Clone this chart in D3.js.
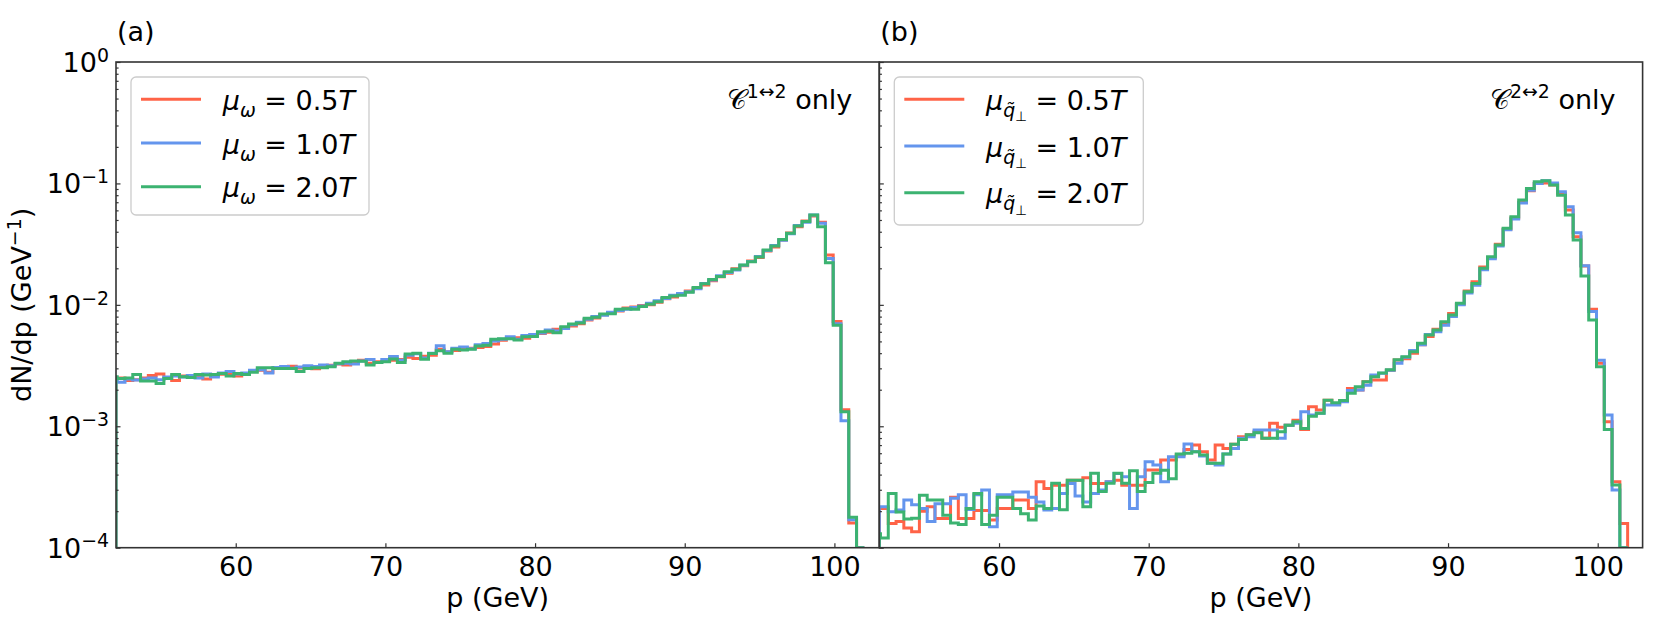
<!DOCTYPE html>
<html>
<head>
<meta charset="utf-8">
<script src="https://cdn.jsdelivr.net/npm/d3@7"></script>
<style>
  body { margin: 0; background: #fff; }
  svg { display: block; font-family: "DejaVu Sans", sans-serif; }
</style>
</head>
<body>
<script>
// Histogram binning (p in GeV): 0.52 GeV bins, first visible bin starts at 51.56
var binStart = 51.56, binWidth = 0.52, nBins = 97;
var binEdges = d3.range(nBins + 1).map(function(i) { return +(binStart + i * binWidth).toFixed(2); });

// (a) C^{1<->2} only : dN/dp per bin for mu_omega = 0.5T, 1.0T, 2.0T
var a05 = [
  2.45e-3,2.50e-3,2.38e-3,2.42e-3,2.50e-3,2.62e-3,2.70e-3,2.48e-3,2.38e-3,2.60e-3,
  2.58e-3,2.62e-3,2.45e-3,2.62e-3,2.68e-3,2.70e-3,2.60e-3,2.72e-3,2.85e-3,2.90e-3,
  2.78e-3,3.00e-3,3.05e-3,3.12e-3,3.02e-3,3.10e-3,2.98e-3,3.05e-3,3.18e-3,3.25e-3,
  3.20e-3,3.38e-3,3.50e-3,3.30e-3,3.40e-3,3.42e-3,3.50e-3,3.55e-3,3.70e-3,3.62e-3,
  3.78e-3,3.85e-3,4.30e-3,4.10e-3,4.20e-3,4.35e-3,4.40e-3,4.45e-3,4.55e-3,4.75e-3,
  5.10e-3,5.30e-3,5.35e-3,5.30e-3,5.60e-3,5.80e-3,5.95e-3,6.30e-3,6.50e-3,6.70e-3,
  7.00e-3,7.50e-3,7.80e-3,8.30e-3,8.60e-3,8.90e-3,9.40e-3,9.60e-3,9.90e-3,1.00e-2,
  1.05e-2,1.12e-2,1.16e-2,1.22e-2,1.30e-2,1.37e-2,1.46e-2,1.58e-2,1.70e-2,1.82e-2,
  1.98e-2,2.10e-2,2.30e-2,2.45e-2,2.78e-2,3.00e-2,3.42e-2,3.90e-2,4.40e-2,4.90e-2,
  5.40e-2,4.80e-2,2.57e-2,7.30e-3,1.37e-3,1.60e-4,0
];
var a10 = [
  2.50e-3,2.30e-3,2.45e-3,2.40e-3,2.45e-3,2.50e-3,2.42e-3,2.55e-3,2.60e-3,2.55e-3,
  2.62e-3,2.50e-3,2.70e-3,2.55e-3,2.75e-3,2.82e-3,2.70e-3,2.75e-3,2.90e-3,2.92e-3,
  2.75e-3,3.05e-3,3.10e-3,3.00e-3,3.08e-3,3.15e-3,3.10e-3,3.20e-3,3.15e-3,3.28e-3,
  3.30e-3,3.25e-3,3.45e-3,3.55e-3,3.35e-3,3.55e-3,3.75e-3,3.50e-3,3.85e-3,3.95e-3,
  3.65e-3,4.00e-3,4.60e-3,4.10e-3,4.40e-3,4.50e-3,4.35e-3,4.70e-3,4.80e-3,5.05e-3,
  5.20e-3,5.45e-3,5.20e-3,5.60e-3,5.70e-3,5.85e-3,6.20e-3,6.10e-3,6.40e-3,6.85e-3,
  7.20e-3,7.60e-3,8.00e-3,8.20e-3,8.70e-3,9.00e-3,9.20e-3,9.50e-3,9.80e-3,1.03e-2,
  1.08e-2,1.13e-2,1.20e-2,1.24e-2,1.28e-2,1.36e-2,1.50e-2,1.60e-2,1.74e-2,1.85e-2,
  1.94e-2,2.12e-2,2.28e-2,2.50e-2,2.80e-2,3.08e-2,3.40e-2,3.85e-2,4.50e-2,4.80e-2,
  5.50e-2,4.70e-2,2.41e-2,7.00e-3,1.11e-3,1.70e-4,0
];
var a20 = [
  2.56e-3,2.48e-3,2.50e-3,2.67e-3,2.36e-3,2.36e-3,2.25e-3,2.48e-3,2.67e-3,2.56e-3,
  2.52e-3,2.67e-3,2.64e-3,2.67e-3,2.72e-3,2.60e-3,2.72e-3,2.67e-3,2.78e-3,3.03e-3,
  3.03e-3,2.99e-3,2.99e-3,2.99e-3,2.83e-3,2.99e-3,3.03e-3,3.03e-3,3.09e-3,3.30e-3,
  3.40e-3,3.45e-3,3.43e-3,3.19e-3,3.35e-3,3.40e-3,3.58e-3,3.35e-3,3.93e-3,4.00e-3,
  3.56e-3,3.98e-3,4.19e-3,4.00e-3,4.30e-3,4.25e-3,4.30e-3,4.58e-3,4.65e-3,5.20e-3,
  5.27e-3,5.27e-3,5.14e-3,5.46e-3,5.50e-3,6.00e-3,6.05e-3,5.90e-3,6.60e-3,6.95e-3,
  7.10e-3,7.74e-3,7.90e-3,8.40e-3,8.45e-3,9.18e-3,9.30e-3,9.20e-3,9.70e-3,1.01e-2,
  1.06e-2,1.15e-2,1.18e-2,1.20e-2,1.27e-2,1.39e-2,1.49e-2,1.62e-2,1.71e-2,1.87e-2,
  1.96e-2,2.13e-2,2.26e-2,2.48e-2,2.83e-2,3.05e-2,3.45e-2,3.88e-2,4.46e-2,4.85e-2,
  5.50e-2,4.40e-2,2.22e-2,6.80e-3,1.32e-3,1.78e-4,0
];

// (b) C^{2<->2} only : dN/dp per bin for mu_qperp = 0.5T, 1.0T, 2.0T
var b05 = [
  2.10e-4,2.10e-4,1.58e-4,1.64e-4,1.45e-4,1.35e-4,2.00e-4,2.17e-4,1.74e-4,1.74e-4,
  2.60e-4,1.74e-4,1.74e-4,2.02e-4,2.02e-4,1.69e-4,2.10e-4,2.10e-4,2.47e-4,2.47e-4,
  2.10e-4,3.49e-4,3.07e-4,3.27e-4,3.27e-4,3.60e-4,3.60e-4,3.76e-4,3.38e-4,3.38e-4,
  3.49e-4,3.60e-4,3.27e-4,3.27e-4,3.27e-4,4.36e-4,4.36e-4,5.27e-4,5.27e-4,5.79e-4,
  6.45e-4,7.00e-4,6.16e-4,5.27e-4,7.00e-4,6.57e-4,7.10e-4,8.20e-4,8.50e-4,9.00e-4,
  7.95e-4,1.06e-3,9.80e-4,1.02e-3,1.12e-3,9.40e-4,1.45e-3,1.36e-3,1.64e-3,1.54e-3,
  1.63e-3,2.05e-3,1.99e-3,2.33e-3,2.40e-3,2.40e-3,2.90e-3,3.51e-3,3.60e-3,4.00e-3,
  4.70e-3,5.50e-3,6.30e-3,7.10e-3,8.50e-3,1.01e-2,1.30e-2,1.55e-2,2.05e-2,2.45e-2,
  3.15e-2,4.20e-2,5.20e-2,7.00e-2,8.70e-2,1.00e-1,1.01e-1,9.70e-2,8.30e-2,6.04e-2,
  3.64e-2,2.09e-2,9.20e-3,3.30e-3,1.09e-3,3.49e-4,1.58e-4
];
var b10 = [
  2.17e-4,2.17e-4,1.98e-4,2.04e-4,2.47e-4,2.26e-4,2.10e-4,1.64e-4,2.30e-4,2.30e-4,
  2.56e-4,2.73e-4,2.06e-4,2.73e-4,2.98e-4,1.49e-4,2.73e-4,2.73e-4,2.88e-4,2.88e-4,
  2.60e-4,2.38e-4,2.04e-4,2.10e-4,2.80e-4,3.38e-4,2.66e-4,2.38e-4,2.80e-4,2.98e-4,
  3.49e-4,4.09e-4,3.84e-4,2.10e-4,3.84e-4,5.10e-4,4.80e-4,3.49e-4,5.61e-4,5.61e-4,
  7.13e-4,6.16e-4,5.69e-4,4.95e-4,4.79e-4,5.90e-4,6.57e-4,7.95e-4,8.20e-4,9.30e-4,
  9.30e-4,9.30e-4,7.95e-4,1.02e-3,1.06e-3,1.32e-3,1.24e-3,1.28e-3,1.50e-3,1.50e-3,
  1.59e-3,1.97e-3,1.99e-3,2.18e-3,2.64e-3,2.73e-3,2.90e-3,3.30e-3,3.70e-3,4.20e-3,
  4.70e-3,5.70e-3,6.00e-3,6.80e-3,8.00e-3,1.00e-2,1.25e-2,1.45e-2,1.95e-2,2.40e-2,
  3.05e-2,4.15e-2,5.10e-2,6.90e-2,8.80e-2,1.00e-1,1.05e-1,1.01e-1,8.55e-2,6.43e-2,
  3.93e-2,2.10e-2,8.80e-3,3.50e-3,1.24e-3,2.98e-4,0
];
var b20 = [
  1.30e-4,1.20e-4,2.80e-4,1.97e-4,1.72e-4,1.75e-4,2.70e-4,2.47e-4,2.47e-4,1.85e-4,
  1.60e-4,1.55e-4,2.10e-4,2.80e-4,1.55e-4,1.85e-4,2.60e-4,2.60e-4,2.10e-4,1.90e-4,
  1.69e-4,2.20e-4,2.10e-4,3.40e-4,2.05e-4,3.60e-4,3.60e-4,2.17e-4,4.10e-4,2.90e-4,
  3.40e-4,4.10e-4,3.40e-4,4.30e-4,2.90e-4,3.45e-4,4.10e-4,4.35e-4,3.70e-4,5.90e-4,
  6.00e-4,6.16e-4,5.79e-4,4.95e-4,4.95e-4,5.90e-4,7.10e-4,7.80e-4,8.50e-4,8.85e-4,
  7.95e-4,7.95e-4,9.00e-4,1.02e-3,1.09e-3,9.60e-4,1.21e-3,1.28e-3,1.64e-3,1.56e-3,
  1.63e-3,1.87e-3,2.12e-3,2.33e-3,2.56e-3,2.75e-3,2.92e-3,3.53e-3,3.74e-3,4.11e-3,
  4.82e-3,5.64e-3,6.20e-3,7.26e-3,8.24e-3,1.03e-2,1.28e-2,1.50e-2,2.00e-2,2.49e-2,
  3.11e-2,4.27e-2,5.32e-2,7.30e-2,9.10e-2,1.03e-1,1.05e-1,9.70e-2,8.00e-2,5.50e-2,
  3.42e-2,1.73e-2,7.50e-3,3.09e-3,9.40e-4,3.28e-4,0
];

var muValues = ["0.5", "1.0", "2.0"];
var xTicks = [60, 70, 80, 90, 100];
var yDecades = [0, -1, -2, -3, -4];
var colours = ["#ff6347", "#6495ed", "#3cb371"];

// ---- layout ----
var width = 1661, height = 623;
var plotTop = 62, plotBottom = 547.7, panelW = 763.3;
var fontSize = 27;

var svg = d3.select("body").append("svg")
  .attr("width", width)
  .attr("height", height);

var x = d3.scaleLinear().domain([52, 103]).range([0, panelW]).clamp(true);
var y = d3.scaleLog().domain([1e-4, 1]).range([plotBottom, plotTop]).clamp(true);

var line = d3.line()
  .x(function(d) { return x(d[0]); })
  .y(function(d) { return y(d[1]); });

// step outline like matplotlib histtype="step"
function stepPoints(vals) {
  var pts = [[binEdges[0], 0]];
  vals.forEach(function(v, i) {
    pts.push([binEdges[i], v]);
    pts.push([binEdges[i + 1], v]);
  });
  pts.push([binEdges[vals.length], 0]);
  return pts;
}

// text with sub/superscripts: parts = [text, italic, level]
// level 0 normal, 1 subscript, 2 sub-subscript, -1 superscript
function mathText(sel, parts, size) {
  var shift = { "0": 0, "1": 0.26 * size, "2": 0.42 * size, "-1": -0.38 * size };
  var scale = { "0": 1, "1": 0.7, "2": 0.5, "-1": 0.7 };
  var cur = 0;
  parts.forEach(function(p) {
    var s = shift[p[2]];
    sel.append("tspan")
      .attr("dy", s - cur)
      .style("font-size", (size * scale[p[2]]) + "px")
      .style("font-style", p[1] ? "italic" : "normal")
      .text(p[0]);
    cur = s;
  });
}

var panels = [
  { left: 116, tag: "(a)", series: [a05, a10, a20], note: "1\u21942",
    sub: [["\u03c9", true, 1]], legendW: 238, legendH: 138, rowH: 43.7 },
  { left: 879.3, tag: "(b)", series: [b05, b10, b20], note: "2\u21942",
    sub: [["q\u0303", true, 1], ["\u22a5", false, 2]], legendW: 249, legendH: 148, rowH: 46.7 }
];

var minorTicks = [];
[-4, -3, -2, -1].forEach(function(e) {
  d3.range(2, 10).forEach(function(m) { minorTicks.push(m * Math.pow(10, e)); });
});
var majorTicks = yDecades.map(function(e) { return Math.pow(10, e); });

panels.forEach(function(p, pi) {
  var g = svg.append("g").attr("transform", "translate(" + p.left + ",0)");

  var clipId = "clip" + pi;
  g.append("clipPath").attr("id", clipId)
    .append("rect")
    .attr("x", 0).attr("y", plotTop)
    .attr("width", panelW).attr("height", plotBottom - plotTop);

  // histogram outlines: 0.5T, 1.0T, then 2.0T on top
  g.append("g").attr("clip-path", "url(#" + clipId + ")")
    .selectAll("path")
    .data(p.series)
    .enter().append("path")
    .attr("d", function(d) { return line(stepPoints(d)); })
    .attr("fill", "none")
    .attr("stroke", function(d, i) { return colours[i]; })
    .attr("stroke-width", 3)
    .attr("stroke-linejoin", "miter");

  // x axis, ticks pointing inward
  var xa = g.append("g")
    .attr("transform", "translate(0," + plotBottom + ")")
    .call(d3.axisBottom(x).tickValues(xTicks).tickSize(-4.5).tickPadding(9.5));
  xa.select(".domain").remove();
  xa.selectAll("line").attr("stroke", "#333").attr("stroke-width", 1.3);
  xa.selectAll("text")
    .attr("fill", "#000")
    .style("font-size", fontSize + "px")
    .style("font-family", "DejaVu Sans");

  // y axis major + minor ticks, inward
  var ya = g.append("g")
    .call(d3.axisLeft(y).tickValues(majorTicks).tickSize(-4.5).tickFormat(""));
  ya.select(".domain").remove();
  var ym = g.append("g")
    .call(d3.axisLeft(y).tickValues(minorTicks).tickSize(-2.6).tickFormat(""));
  ym.select(".domain").remove();
  g.selectAll(".tick line").attr("stroke", "#333").attr("stroke-width", 1.2);

  // frame
  g.append("rect")
    .attr("x", 0).attr("y", plotTop)
    .attr("width", panelW).attr("height", plotBottom - plotTop)
    .attr("fill", "none")
    .attr("stroke", "#333")
    .attr("stroke-width", 1.6);

  // y tick labels 10^n only on the left panel
  if (pi === 0) {
    yDecades.forEach(function(e) {
      var t = g.append("text")
        .attr("x", -7)
        .attr("y", y(Math.pow(10, e)) + 10)
        .attr("text-anchor", "end")
        .style("font-size", fontSize + "px");
      mathText(t, [["10", false, 0], [e === 0 ? "0" : "\u2212" + (-e), false, -1]], fontSize);
    });
  }

  // panel tag
  g.append("text")
    .attr("x", 1).attr("y", 41)
    .style("font-size", fontSize + "px")
    .text(p.tag);

  // x label
  g.append("text")
    .attr("x", panelW / 2).attr("y", 607)
    .attr("text-anchor", "middle")
    .style("font-size", fontSize + "px")
    .text("p (GeV)");

  // C^{..} only annotation, top right
  var note = g.append("text")
    .attr("x", panelW - 27).attr("y", 108.5)
    .attr("text-anchor", "end")
    .style("font-size", fontSize + "px");
  mathText(note, [["\ud835\udc9e", false, 0], [p.note, false, -1], [" only", false, 0]], fontSize);

  // legend
  var lg = g.append("g").attr("transform", "translate(15,77)");
  lg.append("rect")
    .attr("width", p.legendW).attr("height", p.legendH)
    .attr("rx", 5)
    .attr("fill", "#fff").attr("fill-opacity", 0.8)
    .attr("stroke", "#cccccc").attr("stroke-width", 1.3);
  muValues.forEach(function(v, i) {
    var cy = 22.3 + i * p.rowH;
    lg.append("line")
      .attr("x1", 10).attr("x2", 70)
      .attr("y1", cy).attr("y2", cy)
      .attr("stroke", colours[i]).attr("stroke-width", 3);
    var t = lg.append("text")
      .attr("x", 91.7).attr("y", cy + 10.5)
      .style("font-size", fontSize + "px");
    var parts = [["\u03bc", true, 0]].concat(p.sub).concat([[" = " + v, false, 0], ["T", true, 0]]);
    mathText(t, parts, fontSize);
  });
});

// y label
var yl = svg.append("text")
  .attr("transform", "translate(31," + ((plotTop + plotBottom) / 2) + ") rotate(-90)")
  .attr("text-anchor", "middle")
  .style("font-size", fontSize + "px");
mathText(yl, [["dN/dp (GeV", false, 0], ["\u22121", false, -1], [")", false, 0]], fontSize);
</script>
</body>
</html>
